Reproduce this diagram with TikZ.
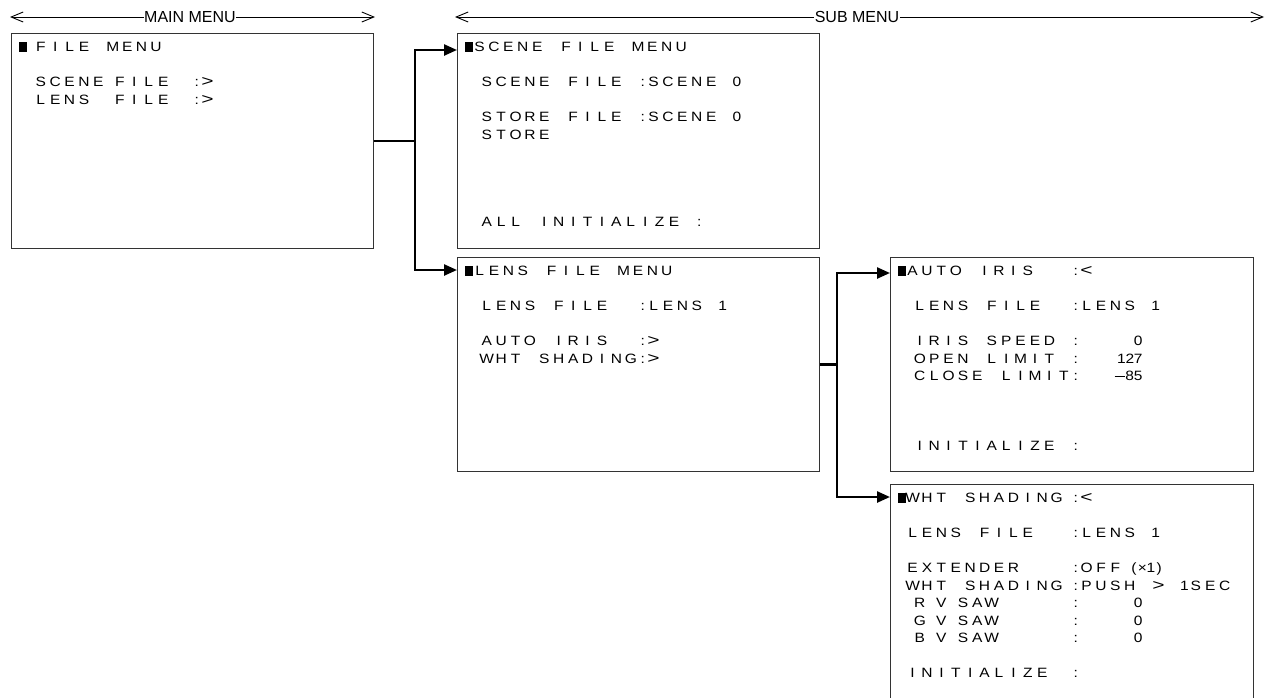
\documentclass[tikz,border=0pt]{standalone}
\usepackage{fontspec}
\usepackage{graphicx}
\setmainfont{Liberation Sans}
\newfontfamily\osdface[FakeStretch=1.15]{Liberation Sans}
\usepackage{tikz}
\usetikzlibrary{arrows.meta,positioning}

% on-screen character grid
\newlength\osdcell \setlength\osdcell{14.4pt}
\newlength\osdhalf \setlength\osdhalf{7.2pt}
\newlength\osddigit \setlength\osddigit{8.4pt}
\newlength\osdcol  \setlength\osdcol{174pt}
\newcommand\osdfont{\osdface\fontsize{13.5pt}{17.5pt}\selectfont}

\ExplSyntaxOn
\cs_new_protected:Npn \osd_char:n #1
  {
    \str_case:nnF {#1}
      {
        { _ } { \hspace*{\osdhalf} }
        { ~ } { \hspace*{\osdcell} }
        { : } { \makebox[\osdhalf]{:} }
        { > } { \makebox[\osdcell]{\scalebox{1.35}[1.15]{>}} }
        { < } { \makebox[\osdcell]{\scalebox{1.35}[1.15]{<}} }
        { ■ } { \makebox[\osdhalf][l]{\rule{7.5pt}{9.8pt}} }
        { − } { \makebox[12pt]{\rule[3.6pt]{10pt}{1pt}} }
      }
      {
        \str_if_in:nnTF { 0123456789()× } {#1}
          { \makebox[\osddigit]{#1} }
          { \makebox[\osdcell]{#1} }
      }
  }
\NewDocumentCommand \osd { m } { \str_map_function:nN {#1} \osd_char:n }
\ExplSyntaxOff

\newcommand\fld[2]{\makebox[\osdcol][l]{\osd{#1}}\osd{:#2}}
\newcommand\fldr[2]{\makebox[\osdcol][l]{\osd{#1}}\osd{:}\makebox[63pt][r]{\osd{#2}}}

\tikzset{
  menu/.style={draw=black!80,line width=0.9pt,anchor=north west,inner sep=0pt,
               minimum width=362pt,minimum height=215pt},
  osdtext/.style={anchor=north west,align=left,inner sep=0pt,font=\osdfont},
  wire/.style={black,line width=2.4pt},
  link/.style={wire,-{Triangle[length=13pt,width=11pt]}},
  hdr/.style={black,line width=0.9pt,-{Straight Barb[length=12pt,width=10pt]}},
  hdrlabel/.style={font=\fontsize{16pt}{18pt}\selectfont,inner sep=0.5pt},
}

\begin{document}
\begin{tikzpicture}[x=1pt,y=-1pt]
  \path[use as bounding box] (0,0) rectangle (1266,697);
  \clip (0,0) rectangle (1266,697);

  % headers
  \coordinate (mainL) at (10,17);
  \coordinate (mainR) at (375,17);
  \node[hdrlabel] (mainlbl) at (190,17) {MAIN MENU};
  \draw[hdr] (mainlbl) -- (mainL);
  \draw[hdr] (mainlbl) -- (mainR);

  \coordinate (subL) at (455,17);
  \coordinate (subR) at (1264,17);
  \node[hdrlabel] (sublbl) at (857,17) {SUB MENU};
  \draw[hdr] (sublbl) -- (subL);
  \draw[hdr] (sublbl) -- (subR);

  % menu frames
  \node[menu] (file)  at (11,33)  {};
  \node[menu] (scene) at (457,33) {};
  \node[menu,minimum height=214pt] (lens) at (457,257) {};
  \node[menu,minimum width=363pt,minimum height=214pt] (auto) at (890,257) {};
  \node[menu,minimum width=363pt,minimum height=240pt] (wht) at (890,484) {};

  % screen texts
  \node[osdtext] (filetxt) at ([xshift=8pt,yshift=-8.5pt]file.north west)
    {\osd{■_FILE MENU}\\[17.5pt]
     \fld{__SCENE_FILE}{>}\\
     \fld{__LENS___FILE}{>}};
  \node[osdtext] (scenetxt) at ([xshift=8pt,yshift=-8.5pt]scene.north west)
    {\osd{■SCENE FILE MENU}\\[17.5pt]
     \fld{__SCENE FILE}{SCENE 0}\\[17.5pt]
     \fld{__STORE FILE}{SCENE 0}\\
     \osd{__STORE}\\[70pt]
     \osd{__ALL INITIALIZE :}};
  \node[osdtext] (lenstxt) at ([xshift=8pt,yshift=-8.5pt]lens.north west)
    {\osd{■LENS FILE MENU}\\[17.5pt]
     \fld{__LENS FILE}{LENS 1}\\[17.5pt]
     \fld{__AUTO IRIS}{>}\\
     \fld{__WHT SHADING}{>}};
  \node[osdtext] (autotxt) at ([xshift=8pt,yshift=-8.5pt]auto.north west)
    {\fld{■AUTO IRIS}{<}\\[17.5pt]
     \fld{__LENS FILE}{LENS 1}\\[17.5pt]
     \fldr{__IRIS SPEED}{0}\\
     \fldr{__OPEN LIMIT}{127}\\
     \fldr{__CLOSE LIMIT}{−85}\\[52.5pt]
     \fld{__INITIALIZE}{}};
  \node[osdtext] (whttxt) at ([xshift=8pt,yshift=-8.5pt]wht.north west)
    {\fld{■WHT SHADING}{<}\\[17.5pt]
     \fld{_LENS FILE}{LENS 1}\\[17.5pt]
     \fld{_EXTENDER}{OFF_(×1)}\\
     \fld{_WHT SHADING}{PUSH > 1SEC}\\
     \fldr{__R_V_SAW}{0}\\
     \fldr{__G_V_SAW}{0}\\
     \fldr{__B_V_SAW}{0}\\[17.5pt]
     \fld{_INITIALIZE}{}};

  % connectors
  \coordinate (fork1) at ([xshift=41pt]file.east);
  \draw[wire] (file.east) -- (fork1);
  \draw[link] (fork1) |- ([yshift=-17pt]scene.north west);
  \draw[link] (fork1) |- ([yshift=-13pt]lens.north west);

  \coordinate (fork2) at ([xshift=17pt]lens.east);
  \draw[wire] (lens.east) -- (fork2);
  \draw[link] (fork2) |- ([yshift=-16pt]auto.north west);
  \draw[link] (fork2) |- ([yshift=-13pt]wht.north west);
\end{tikzpicture}
\end{document}
